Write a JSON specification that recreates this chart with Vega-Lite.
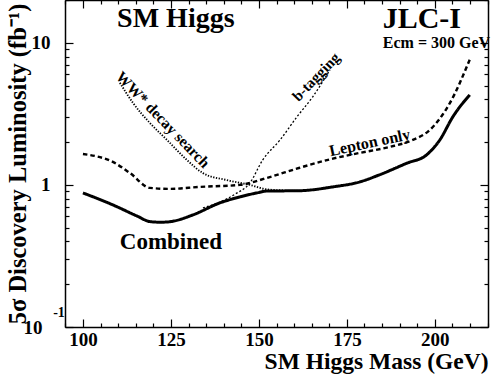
{
  "$schema": "https://vega.github.io/schema/vega-lite/v6.json",
  "width": 423,
  "height": 327,
  "autosize": "none",
  "padding": {"left": 65, "top": 0, "right": 3, "bottom": 50},
  "background": "white",
  "config": {
    "view": {"stroke": null},
    "font": "Liberation Serif",
    "axis": {
      "grid": false,
      "domainColor": "black",
      "domainWidth": 1.5,
      "tickColor": "black",
      "tickWidth": 1.2,
      "labelFont": "Liberation Serif",
      "labelFontWeight": "bold",
      "labelFontSize": 19,
      "labelColor": "black",
      "labelOverlap": false,
      "labelFlush": false,
      "titleFont": "Liberation Serif",
      "titleFontWeight": "bold",
      "titleColor": "black"
    }
  },
  "resolve": {"axis": {"x": "independent", "y": "independent"}},
  "layer": [
    {
      "data": {"values": [
        {"s": "Combined", "m": 100, "L": 0.878},
        {"s": "Combined", "m": 108.5, "L": 0.723},
        {"s": "Combined", "m": 115.3, "L": 0.605},
        {"s": "Combined", "m": 119, "L": 0.552},
        {"s": "Combined", "m": 122, "L": 0.546},
        {"s": "Combined", "m": 125, "L": 0.552},
        {"s": "Combined", "m": 131.25, "L": 0.615},
        {"s": "Combined", "m": 138.9, "L": 0.747},
        {"s": "Combined", "m": 144.6, "L": 0.823},
        {"s": "Combined", "m": 149.4, "L": 0.878},
        {"s": "Combined", "m": 152.3, "L": 0.905},
        {"s": "Combined", "m": 161.6, "L": 0.91},
        {"s": "Combined", "m": 171, "L": 0.968},
        {"s": "Combined", "m": 178.7, "L": 1.05},
        {"s": "Combined", "m": 184, "L": 1.17},
        {"s": "Combined", "m": 192, "L": 1.42},
        {"s": "Combined", "m": 197.7, "L": 1.63},
        {"s": "Combined", "m": 201.4, "L": 2.07},
        {"s": "Combined", "m": 205.1, "L": 3.01},
        {"s": "Combined", "m": 209.9, "L": 4.3},
        {"s": "Lepton", "m": 100, "L": 1.65},
        {"s": "Lepton", "m": 108.5, "L": 1.45},
        {"s": "Lepton", "m": 113.4, "L": 1.21},
        {"s": "Lepton", "m": 119, "L": 0.953},
        {"s": "Lepton", "m": 124.7, "L": 0.937},
        {"s": "Lepton", "m": 133.2, "L": 0.968},
        {"s": "Lepton", "m": 144.6, "L": 1.0},
        {"s": "Lepton", "m": 152.3, "L": 1.12},
        {"s": "Lepton", "m": 161.6, "L": 1.32},
        {"s": "Lepton", "m": 171, "L": 1.53},
        {"s": "Lepton", "m": 178.7, "L": 1.68},
        {"s": "Lepton", "m": 187.2, "L": 1.85},
        {"s": "Lepton", "m": 193.5, "L": 2.06},
        {"s": "Lepton", "m": 198.6, "L": 2.44},
        {"s": "Lepton", "m": 204.3, "L": 3.78},
        {"s": "Lepton", "m": 209.9, "L": 7.6},
        {"s": "WW", "m": 110.5, "L": 5.23},
        {"s": "WW", "m": 114.2, "L": 3.78},
        {"s": "WW", "m": 119, "L": 2.73},
        {"s": "WW", "m": 123.9, "L": 2.07},
        {"s": "WW", "m": 129.5, "L": 1.5},
        {"s": "WW", "m": 134.1, "L": 1.21},
        {"s": "WW", "m": 140.9, "L": 1.08},
        {"s": "WW", "m": 147.4, "L": 1.0},
        {"s": "WW", "m": 152.3, "L": 0.93},
        {"s": "WW", "m": 157.4, "L": 0.915},
        {"s": "btag", "m": 134.1, "L": 0.689},
        {"s": "btag", "m": 138.9, "L": 0.757},
        {"s": "btag", "m": 143.2, "L": 0.86},
        {"s": "btag", "m": 147.4, "L": 1.03},
        {"s": "btag", "m": 151.1, "L": 1.5},
        {"s": "btag", "m": 156, "L": 2.07},
        {"s": "btag", "m": 160.8, "L": 3.01},
        {"s": "btag", "m": 165.3, "L": 4.17},
        {"s": "btag", "m": 170.2, "L": 6.45}
      ]},
      "mark": {"type": "line", "interpolate": "monotone", "color": "black"},
      "encoding": {
        "x": {"field": "m", "type": "quantitative",
          "scale": {"domain": [94.9, 215.1], "nice": false, "zero": false},
          "axis": {
            "orient": "bottom",
            "values": [95,100,105,110,115,120,125,130,135,140,145,150,155,160,165,170,175,180,185,190,195,200,205,210,215],
            "tickSize": {"condition": {"test": "datum.value % 25 === 0", "value": -8}, "value": -4},
            "labelExpr": "datum.value % 25 === 0 ? datum.label : ''",
            "labelPadding": 11,
            "title": "SM Higgs Mass (GeV)",
            "titleFontSize": 23.5,
            "titleAnchor": "end",
            "titlePadding": -4
          }},
        "y": {"field": "L", "type": "quantitative",
          "scale": {"type": "log", "domain": [0.1, 20], "nice": false},
          "axis": {
            "orient": "left",
            "values": [0.1,0.2,0.3,0.4,0.5,0.6,0.7,0.8,0.9,1,2,3,4,5,6,7,8,9,10,20],
            "tickSize": {"condition": {"test": "datum.value == 1 || datum.value == 10 || (datum.value > 0.09 && datum.value < 0.11)", "value": -8}, "value": -4},
            "labelExpr": "datum.value == 10 ? '10' : datum.value == 1 ? '1' : (datum.value > 0.09 && datum.value < 0.11) ? '10' : ''",
            "labelFontSize": 19,
            "labelPadding": {"condition": {"test": "datum.value > 0.09 && datum.value < 0.11", "value": 31}, "value": 23},
            "title": "5σ Discovery Luminosity (fb⁻¹)",
            "titleFontSize": 24.5,
            "titlePadding": -7
          }},
        "strokeDash": {"field": "s", "type": "nominal", "legend": null,
          "scale": {"domain": ["Combined", "Lepton", "WW", "btag"], "range": [[1, 0], [4.5, 3], [1.3, 1.5], [2, 2]]}},
        "strokeWidth": {"field": "s", "type": "nominal", "legend": null,
          "scale": {"domain": ["Combined", "Lepton", "WW", "btag"], "range": [3, 1.3, 1.3, 1.4]}}
      }
    },
    {
      "data": {"values": [{"t": "SM Higgs", "m": 126.4, "L": 14.8}]},
      "mark": {"type": "text", "fontSize": 28, "fontWeight": "bold", "align": "center", "baseline": "middle", "color": "black"},
      "encoding": {
        "text": {"field": "t"},
        "x": {"field": "m", "type": "quantitative",
          "scale": {"domain": [94.9, 215.1], "nice": false, "zero": false},
          "axis": {
            "orient": "top",
            "values": [95,100,105,110,115,120,125,130,135,140,145,150,155,160,165,170,175,180,185,190,195,200,205,210,215],
            "tickSize": {"condition": {"test": "datum.value % 25 === 0", "value": -8}, "value": -4},
            "labels": false,
            "title": null
          }},
        "y": {"field": "L", "type": "quantitative",
          "scale": {"type": "log", "domain": [0.1, 20], "nice": false},
          "axis": {
            "orient": "right",
            "values": [0.1,0.2,0.3,0.4,0.5,0.6,0.7,0.8,0.9,1,2,3,4,5,6,7,8,9,10,20],
            "tickSize": {"condition": {"test": "datum.value == 1 || datum.value == 10 || (datum.value > 0.09 && datum.value < 0.11)", "value": -8}, "value": -4},
            "labels": false,
            "title": null
          }}
      }
    },
    {
      "data": {"values": [{"t": "JLC-I", "m": 196.3, "L": 14.8}]},
      "mark": {"type": "text", "fontSize": 30, "fontWeight": "bold", "align": "center", "baseline": "middle", "color": "black"},
      "encoding": {
        "text": {"field": "t"},
        "x": {"field": "m", "type": "quantitative", "scale": {"domain": [94.9, 215.1], "nice": false, "zero": false}, "axis": null},
        "y": {"field": "L", "type": "quantitative", "scale": {"type": "log", "domain": [0.1, 20], "nice": false}, "axis": null}
      }
    },
    {
      "data": {"values": [{"t": "Ecm = 300 GeV", "m": 185.2, "L": 10}]},
      "mark": {"type": "text", "fontSize": 16, "fontWeight": "bold", "align": "left", "baseline": "middle", "color": "black"},
      "encoding": {
        "text": {"field": "t"},
        "x": {"field": "m", "type": "quantitative", "scale": {"domain": [94.9, 215.1], "nice": false, "zero": false}, "axis": null},
        "y": {"field": "L", "type": "quantitative", "scale": {"type": "log", "domain": [0.1, 20], "nice": false}, "axis": null}
      }
    },
    {
      "data": {"values": [{"t": "Combined", "m": 125, "L": 0.397}]},
      "mark": {"type": "text", "fontSize": 23, "fontWeight": "bold", "align": "center", "baseline": "middle", "color": "black"},
      "encoding": {
        "text": {"field": "t"},
        "x": {"field": "m", "type": "quantitative", "scale": {"domain": [94.9, 215.1], "nice": false, "zero": false}, "axis": null},
        "y": {"field": "L", "type": "quantitative", "scale": {"type": "log", "domain": [0.1, 20], "nice": false}, "axis": null}
      }
    },
    {
      "data": {"values": [{"t": "Lepton only", "m": 181.5, "L": 1.98}]},
      "mark": {"type": "text", "fontSize": 16, "fontWeight": "bold", "align": "center", "baseline": "middle", "angle": -12, "color": "black"},
      "encoding": {
        "text": {"field": "t"},
        "x": {"field": "m", "type": "quantitative", "scale": {"domain": [94.9, 215.1], "nice": false, "zero": false}, "axis": null},
        "y": {"field": "L", "type": "quantitative", "scale": {"type": "log", "domain": [0.1, 20], "nice": false}, "axis": null}
      }
    },
    {
      "data": {"values": [{"t": "b-tagging", "m": 166.2, "L": 5.76}]},
      "mark": {"type": "text", "fontSize": 15, "fontWeight": "bold", "align": "center", "baseline": "middle", "angle": -46, "color": "black"},
      "encoding": {
        "text": {"field": "t"},
        "x": {"field": "m", "type": "quantitative", "scale": {"domain": [94.9, 215.1], "nice": false, "zero": false}, "axis": null},
        "y": {"field": "L", "type": "quantitative", "scale": {"type": "log", "domain": [0.1, 20], "nice": false}, "axis": null}
      }
    },
    {
      "data": {"values": [{"t": "WW* decay search", "m": 122.7, "L": 2.87}]},
      "mark": {"type": "text", "fontSize": 15.5, "fontWeight": "bold", "align": "center", "baseline": "middle", "angle": 46, "color": "black"},
      "encoding": {
        "text": {"field": "t"},
        "x": {"field": "m", "type": "quantitative", "scale": {"domain": [94.9, 215.1], "nice": false, "zero": false}, "axis": null},
        "y": {"field": "L", "type": "quantitative", "scale": {"type": "log", "domain": [0.1, 20], "nice": false}, "axis": null}
      }
    },
    {
      "data": {"values": [{"t": "-1", "m": 93.2, "L": 0.125}]},
      "mark": {"type": "text", "fontSize": 14, "fontWeight": "bold", "align": "center", "baseline": "middle", "color": "black"},
      "encoding": {
        "text": {"field": "t"},
        "x": {"field": "m", "type": "quantitative", "scale": {"domain": [94.9, 215.1], "nice": false, "zero": false}, "axis": null},
        "y": {"field": "L", "type": "quantitative", "scale": {"type": "log", "domain": [0.1, 20], "nice": false}, "axis": null}
      }
    }
  ]
}
